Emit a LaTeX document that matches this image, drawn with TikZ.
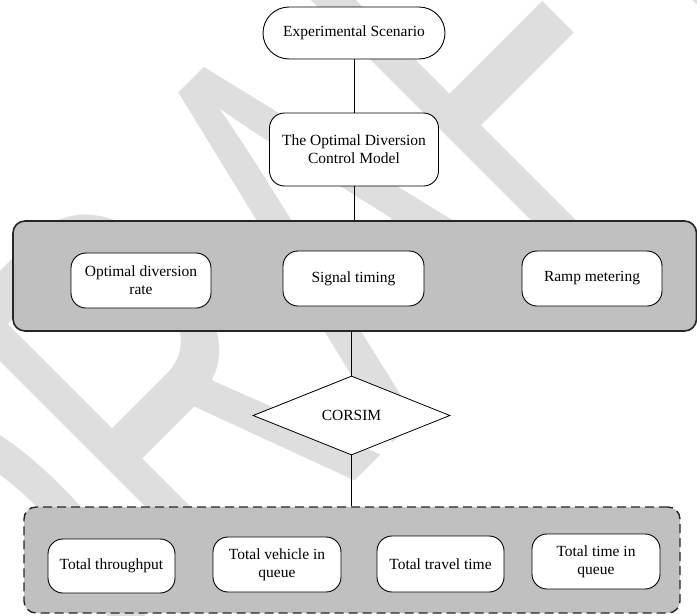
\documentclass[tikz,border=0pt]{standalone}
\usepackage{fontspec}
\setmainfont{Liberation Serif}
\newfontfamily\wmfont{Liberation Sans}
\usetikzlibrary{shapes.geometric}
\definecolor{panelgray}{RGB}{192,192,192}
\definecolor{wmgray}{RGB}{222,222,222}
\begin{document}
\begin{tikzpicture}[x=1pt,y=-1pt,
  lbl/.style={font=\fontsize{15.5}{18}\selectfont},
  box/.style={lbl, draw=black, line width=0.9pt, fill=white,
    rounded corners=15pt, align=center, inner sep=0pt},
  stadium/.style={box, rounded corners=26pt},
  panel/.style={draw=black!85, line width=1.6pt, fill=panelgray,
    rounded corners=12pt, inner sep=0pt},
  dashpanel/.style={panel, line width=1.4pt, dash pattern=on 9pt off 5pt},
  decision/.style={lbl, diamond, draw=black, line width=0.8pt, fill=white,
    inner sep=0pt},
  conn/.style={draw=black, line width=0.9pt},
  wm/.style={text=wmgray, inner sep=0pt, font=\wmfont\fontsize{580}{580}\selectfont}]
\useasboundingbox (0,0) rectangle (697,616);

% faint watermark behind the chart
\begin{scope}
  \clip (0,0) rectangle (697,616);
  \node[wm, rotate=45, anchor=base west] (mark) at (42.8,793.2)
    {\scalebox{0.59}[1]{DRAFT}};
\end{scope}

% grouping panels
\node[panel, minimum width=683.5pt, minimum height=110pt] (ctl) at (354.75,276) {};
\node[dashpanel, minimum width=656pt, minimum height=106pt] (res) at (352,560) {};

% top of the chain
\node[stadium, minimum width=182pt, minimum height=52pt] (es) at (354,33)
  {Experimental Scenario};
\node[box, minimum width=169pt, minimum height=73pt] (odcm) at (354,149.5)
  {The Optimal Diversion\\Control Model};

% control measures
\node[box, minimum width=140pt, minimum height=55pt] (odr) at (141,280.5)
  {Optimal diversion\\rate};
\node[box, minimum width=141pt, minimum height=55pt] (sig) at (353.5,278.5)
  {Signal timing};
\node[box, minimum width=140pt, minimum height=55pt] (ramp) at (592,278.5)
  {Ramp metering};

% simulator
\node[decision, minimum width=197pt, minimum height=79pt] (dia) at (351.5,415.5)
  {CORSIM};

% performance measures
\node[box, minimum width=127pt, minimum height=54pt] (thr) at (111.5,566)
  {Total throughput};
\node[box, minimum width=128pt, minimum height=55pt] (veh) at (277,564.5)
  {Total vehicle in\\queue};
\node[box, minimum width=127pt, minimum height=56pt] (trv) at (440.5,564)
  {Total travel time};
\node[box, minimum width=128pt, minimum height=55pt] (tiq) at (596,561.5)
  {Total time in\\queue};

% connectors
\draw[conn] (es.south) -- (odcm.north);
\draw[conn] (odcm.south) -- (odcm.south |- ctl.north);
\draw[conn] (dia.north) -- (dia.north |- ctl.south);
\draw[conn] (dia.south) -- (dia.south |- res.north);
\end{tikzpicture}
\end{document}
